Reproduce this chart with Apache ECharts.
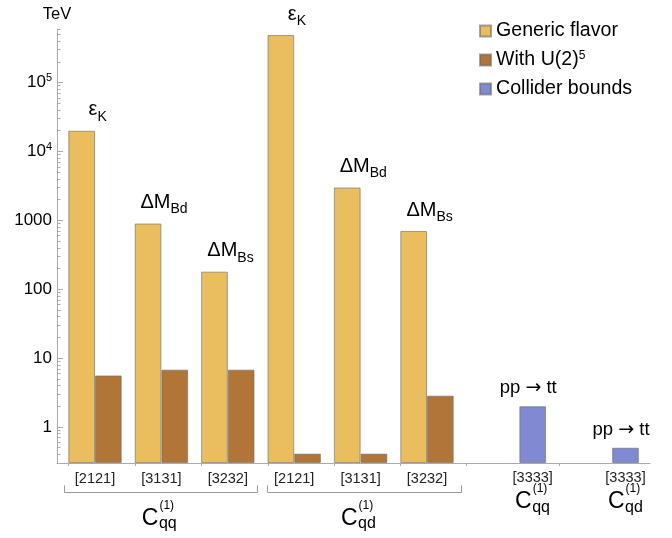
<!DOCTYPE html>
<html>
<head>
<meta charset="utf-8">
<script src="https://cdn.jsdelivr.net/npm/echarts@6/dist/echarts.min.js"></script>
<style>
html,body{margin:0;padding:0;background:#fff;}
#chart{width:672px;height:538px;}
</style>
</head>
<body>
<div id="chart"></div>
<script>
// ---------------- data ----------------
const flavorGroups = ['[2121]', '[3131]', '[3232]', '[2121]', '[3131]', '[3232]'];
const genericFlavor = [20000, 900, 180, 490000, 3000, 700];
const withU25 = [5.6, 6.8, 6.8, 0.41, 0.41, 2.85];
const flavorObservables = ['ε_K', 'ΔM_Bd', 'ΔM_Bs', 'ε_K', 'ΔM_Bd', 'ΔM_Bs'];
const flavorOperators = [['C', '(1)', 'qq'], ['C', '(1)', 'qd']];
const colliderGroups = ['[3333]', '[3333]'];
const colliderBounds = [2.0, 0.5];
const colliderObservables = ['pp → tt', 'pp → tt'];
const colliderOperators = [['C', '(1)', 'qq'], ['C', '(1)', 'qd']];
const seriesNames = ['Generic flavor', 'With U(2)^5', 'Collider bounds'];
const yMajorTicks = [1, 10, 100, 1000, 10000, 100000];
const Y_MIN = 0.3, Y_MAX = 600000;
const yUnit = 'TeV';

// ---------------- style ----------------
const FONT = '"Liberation Sans", Arial, Helvetica, sans-serif';
const GOLD = '#EABD5E', BROWN = '#B27538', BLUE = '#7F8AD3';
const EDGE = 'rgba(105,105,105,0.6)';
const AXIS = '#ababab';
const BAR_W = 26.7;
const BRACKET_PAD = [[31, 28.7], [27.3, 34]];

const yMinorTicks = [];
for (let e = -1; e <= 5; e++) {
  for (let m = 2; m <= 9; m++) {
    const v = m * Math.pow(10, e);
    if (v >= Y_MIN * 0.999999 && v <= Y_MAX * 1.000001) yMinorTicks.push(v);
  }
}
const LMIN = Math.log10(Y_MIN), LMAX = Math.log10(Y_MAX);

function richObs(s) {
  const i = s.indexOf('_');
  let out = i < 0 ? '{m|' + s + '}' : '{m|' + s.slice(0, i) + '}{s|' + s.slice(i + 1) + '}';
  return out.replace('→', '}{a|→}{m|');
}

const chart = echarts.init(document.getElementById('chart'), null, {renderer: 'canvas'});

const obsRich = {
  m: {fontFamily: FONT, fontSize: 20, lineHeight: 24, color: '#000'},
  s: {fontFamily: FONT, fontSize: 14, lineHeight: 14, padding: [14, 0, 0, 0], color: '#000'}
};
const colRich = {
  m: {fontFamily: FONT, fontSize: 18.5, lineHeight: 20, color: '#000'},
  a: {fontFamily: '"DejaVu Sans", sans-serif', fontSize: 19, lineHeight: 20, color: '#000'}
};

const option = {
  animation: false,
  textStyle: {fontFamily: FONT, color: '#000'},
  grid: [
    {left: 57, right: 22, top: 29, height: 434},
    {left: 61.8, width: 398.4, top: 29, height: 434},
    {left: 486.3, width: 185.6, top: 29, height: 434}
  ],
  legend: {
    orient: 'vertical', left: 479, top: 21, padding: 0,
    itemWidth: 11, itemHeight: 11, itemGap: 9, itemTextGap: 7,
    icon: 'rect',
    data: seriesNames,
    formatter: n => n.replace(/\^(\w+)$/, '{sup|$1}'),
    textStyle: {
      fontFamily: FONT, fontSize: 19.6, lineHeight: 20, color: '#000',
      rich: {sup: {fontFamily: FONT, fontSize: 12, lineHeight: 12, verticalAlign: 'top', color: '#000'}}
    }
  },
  xAxis: [
    {type: 'value', gridIndex: 0, min: 0, max: 1,
     axisLine: {show: true, onZero: false, lineStyle: {color: AXIS, width: 1}},
     axisTick: {show: false}, axisLabel: {show: false}, splitLine: {show: false}},
    {type: 'category', gridIndex: 1, data: flavorGroups,
     axisLine: {show: false}, axisTick: {show: false},
     axisLabel: {interval: 0, margin: 8, fontFamily: FONT, fontSize: 14.5, color: '#222'}},
    {type: 'category', gridIndex: 2, data: colliderGroups,
     axisLine: {show: false}, axisTick: {show: false},
     axisLabel: {interval: 0, margin: 7, fontFamily: FONT, fontSize: 14.5, color: '#222'}}
  ],
  yAxis: [
    {type: 'value', gridIndex: 0, position: 'left', min: LMIN, max: LMAX,
     name: yUnit, nameLocation: 'end', nameGap: 15,
     nameTextStyle: {fontFamily: FONT, fontSize: 16.5, color: '#000', align: 'center', verticalAlign: 'middle'},
     axisLine: {show: true, onZero: false, lineStyle: {color: AXIS, width: 1}},
     axisTick: {show: true, inside: true, length: 6, customValues: yMajorTicks.map(Math.log10),
                lineStyle: {color: AXIS, width: 1}},
     axisLabel: {show: true, customValues: yMajorTicks.map(Math.log10), margin: 5,
                 fontFamily: FONT, fontSize: 17, lineHeight: 20, color: '#000',
                 formatter: v => {
                   const e = Math.round(v);
                   return e >= 4 ? '10{sup|' + e + '}' : String(Math.pow(10, e));
                 },
                 rich: {sup: {fontFamily: FONT, fontSize: 11, lineHeight: 11, verticalAlign: 'top', color: '#000'}}},
     splitLine: {show: false}},
    {type: 'value', gridIndex: 0, position: 'left', min: LMIN, max: LMAX,
     axisLine: {show: false, onZero: false},
     axisTick: {show: true, inside: true, length: 3.5, customValues: yMinorTicks.map(Math.log10),
                lineStyle: {color: AXIS, width: 1}},
     axisLabel: {show: false}, splitLine: {show: false}},
    {type: 'log', gridIndex: 1, min: Y_MIN, max: Y_MAX, startValue: Y_MIN, show: false},
    {type: 'log', gridIndex: 2, min: Y_MIN, max: Y_MAX, startValue: Y_MIN, show: false}
  ],
  series: [
    {name: seriesNames[0], type: 'bar', xAxisIndex: 1, yAxisIndex: 2,
     data: genericFlavor, barWidth: BAR_W, barGap: '0%',
     itemStyle: {color: GOLD, borderColor: EDGE, borderWidth: 1},
     label: {show: true, position: 'top', distance: 9, offset: [16, 0],
             formatter: p => richObs(flavorObservables[p.dataIndex]),
             rich: obsRich}},
    {name: seriesNames[1], type: 'bar', xAxisIndex: 1, yAxisIndex: 2,
     data: withU25, barWidth: BAR_W, barGap: '0%',
     itemStyle: {color: BROWN, borderColor: EDGE, borderWidth: 1}},
    {name: seriesNames[2], type: 'bar', xAxisIndex: 2, yAxisIndex: 3,
     data: colliderBounds, barWidth: BAR_W,
     itemStyle: {color: BLUE, borderColor: EDGE, borderWidth: 1},
     label: {show: true, position: 'top', distance: 8, offset: [-4.5, 0],
             formatter: p => richObs(colliderObservables[p.dataIndex]),
             rich: colRich}}
  ]
};
chart.setOption(option);

// ---------- annotations below the axis (brackets, small ticks, operator names) ----------
const axisY = chart.convertToPixel({yAxisIndex: 2}, Y_MIN);
const cx1 = i => chart.convertToPixel({xAxisIndex: 1}, i);
const cx2 = i => chart.convertToPixel({xAxisIndex: 2}, i);

function opLabel(ax, cy, parts) {
  return [
    {type: 'text', x: ax, y: cy, silent: true,
     style: {text: parts[0], fontFamily: FONT, fontSize: 23, fill: '#000',
             align: 'right', textAlign: 'right', verticalAlign: 'middle', textVerticalAlign: 'middle'}},
    {type: 'text', x: ax + 1, y: cy - 12.5, silent: true,
     style: {text: parts[1], fontFamily: FONT, fontSize: 12, fill: '#000',
             align: 'left', textAlign: 'left', verticalAlign: 'middle', textVerticalAlign: 'middle'}},
    {type: 'text', x: ax + 0.5, y: cy + 5.6, silent: true,
     style: {text: parts[2], fontFamily: FONT, fontSize: 16, fill: '#000',
             align: 'left', textAlign: 'left', verticalAlign: 'middle', textVerticalAlign: 'middle'}}
  ];
}

function smallTick(x) {
  const xx = Math.round(x) + 0.5;
  return {type: 'line', silent: true,
    shape: {x1: xx, y1: axisY, x2: xx, y2: axisY + 3},
    style: {stroke: AXIS, lineWidth: 1}};
}

const graphics = [];
const by = Math.round(axisY + 29) + 0.5;
flavorGroups.forEach((g, i) => graphics.push(smallTick(cx1(i) - BAR_W)));
colliderGroups.forEach((g, i) => graphics.push(smallTick(cx2(i) - 2.5 * BAR_W)));
flavorOperators.forEach((ops, h) => {
  const x1 = Math.round(cx1(3 * h) - BRACKET_PAD[h][0]) + 0.5;
  const x2 = Math.round(cx1(3 * h + 2) + BRACKET_PAD[h][1]) + 0.5;
  graphics.push({type: 'polyline', silent: true,
    shape: {points: [[x1, by - 7], [x1, by], [x2, by], [x2, by - 7]]},
    style: {stroke: '#999', lineWidth: 1, fill: null}});
  graphics.push(...opLabel(cx1(3 * h + 1) - 3, axisY + 55.3, ops));
});
colliderOperators.forEach((ops, i) => {
  graphics.push(...opLabel(cx2(i) - 1, axisY + 38.5, ops));
});
chart.setOption({graphic: graphics});
</script>
</body>
</html>
